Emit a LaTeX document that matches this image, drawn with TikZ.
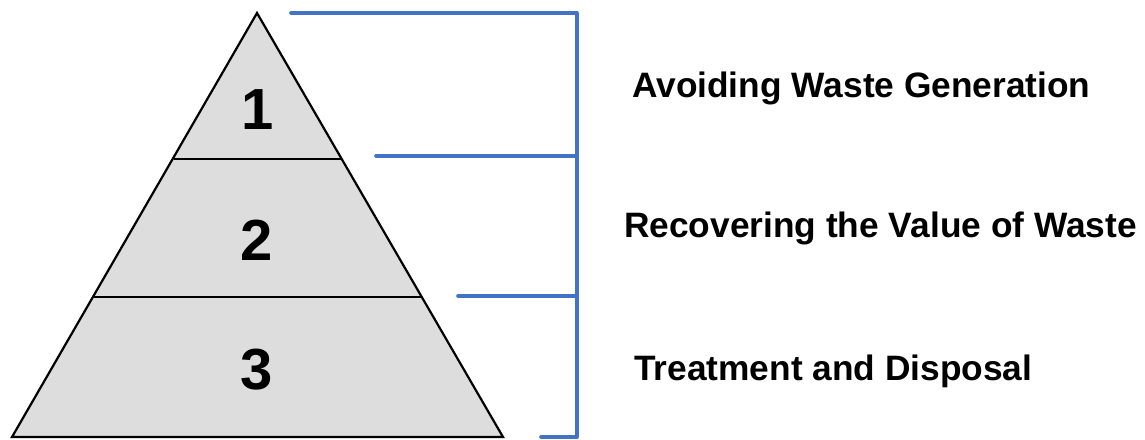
\documentclass[tikz,border=0pt]{standalone}
\usepackage{fontspec}
\setmainfont{Liberation Sans}
\definecolor{bracketblue}{HTML}{4472C4}
\definecolor{pyrgray}{HTML}{DDDDDD}
\begin{document}
\begin{tikzpicture}[x=1pt,y=-1pt,
  tier/.style={fill=pyrgray,draw=black,line width=2.2pt,line join=miter},
  divider/.style={draw=black,line width=2.2pt},
  bracket/.style={draw=bracketblue,line width=3.6pt,line cap=round},
  numlabel/.style={font=\fontsize{58}{60}\selectfont\bfseries,inner sep=0pt},
  textlabel/.style={font=\fontsize{35.3}{40}\selectfont\bfseries,anchor=base west,inner sep=0pt}]
\useasboundingbox (0,0) rectangle (1145,439);
\coordinate (apex) at (257,13);
\coordinate (bl) at (12,437);
\coordinate (br) at (503,437);
\coordinate (d1l) at (173.5,159);
\coordinate (d1r) at (341.5,159);
\coordinate (d2l) at (93.5,297);
\coordinate (d2r) at (421.5,297);
\path[tier] (apex) -- (br) -- (bl) -- cycle;
\draw[divider] (d1l) -- (d1r);
\draw[divider] (d2l) -- (d2r);
\node[numlabel] (n1) at (258,110) {1};
\node[numlabel] (n2) at (257,240) {2};
\node[numlabel] (n3) at (257,370) {3};
\coordinate (b0s) at (291,13);
\coordinate (b0e) at (577,13);
\coordinate (b1s) at (376,156);
\coordinate (b1e) at (577,156);
\coordinate (b2s) at (458,296);
\coordinate (b2e) at (577,296);
\coordinate (b3s) at (541,437);
\coordinate (b3e) at (577,437);
\draw[bracket] (b0s) -- (b0e);
\draw[bracket] (b1s) -- (b1e);
\draw[bracket] (b2s) -- (b2e);
\draw[bracket,line cap=butt] (b0e) -- (b3e);
\draw[bracket] (b3s) -- (b3e);
\node[textlabel] (t1) at (632,97) {Avoiding Waste Generation};
\node[textlabel] (t2) at (624,237) {Recovering the Value of Waste};
\node[textlabel] (t3) at (634,380) {Treatment and Disposal};
\end{tikzpicture}
\end{document}
